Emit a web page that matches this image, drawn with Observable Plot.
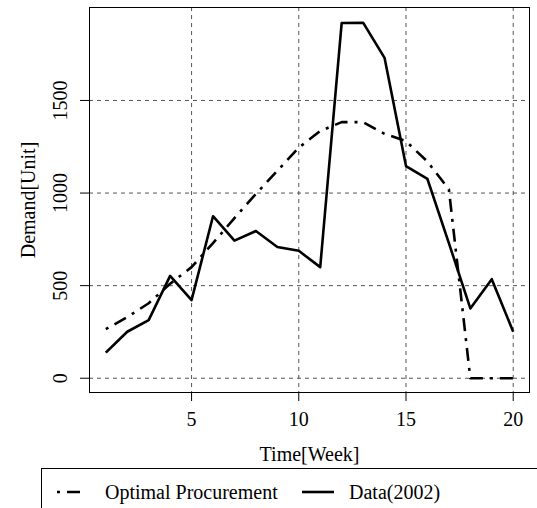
<!DOCTYPE html>
<html>
<head>
<meta charset="utf-8">
<script src="https://cdn.jsdelivr.net/npm/d3@7"></script>
<script src="https://cdn.jsdelivr.net/npm/@observablehq/plot@0.6"></script>
<style>
  html, body { margin: 0; padding: 0; background: #fff; overflow: hidden; }
  #wrap { position: relative; width: 537px; height: 508px; overflow: hidden; font-family: "Liberation Serif", "DejaVu Serif", serif; }
  #wrap svg.plot { position: absolute; left: 0; top: 0; }
  #legend { position: absolute; left: 41px; top: 468px; width: 520px; height: 80px; border: 1px solid #000; box-sizing: border-box; background: transparent; }
  .lg-text { position: absolute; top: 11px; font-size: 20px; line-height: 24px; color: #000; white-space: nowrap; }
  .lg-svg { position: absolute; top: 11px; }
</style>
</head>
<body>
<div id="wrap"></div>
<script>
// ---- data ----
const weeks = [1, 2, 3, 4, 5, 6, 7, 8, 9, 10, 11, 12, 13, 14, 15, 16, 17, 18, 19, 20];
const data2002 = [138, 251, 314, 553, 422, 875, 743, 795, 709, 688, 600, 1918, 1920, 1730, 1146, 1076, 730, 377, 535, 251];
const optimal = [265, 330, 405, 510, 600, 730, 865, 995, 1120, 1245, 1335, 1383, 1383, 1320, 1280, 1170, 1020, 0, 0, 0];
const xTicks = [5, 10, 15, 20];
const yTicks = [0, 500, 1000, 1500];
const seriesNames = ["Optimal Procurement", "Data(2002)"];
const xTitle = "Time[Week]";
const yTitle = "Demand[Unit]";

const rows = weeks.map((w, i) => ({week: w, data: data2002[i], opt: optimal[i]}));

const W = 537, H = 474;
const dashDot = "3,7,13,7";

const chart = Plot.plot({
  width: W,
  height: H,
  marginLeft: 89,
  marginRight: 8,
  marginTop: 7,
  marginBottom: H - 392,
  style: {fontFamily: "'Liberation Serif', 'DejaVu Serif', serif", fontSize: "20px", background: "transparent", color: "#000"},
  x: {domain: [0.24, 20.76]},
  y: {domain: [-77, 2002]},
  marks: [
    Plot.ruleX(xTicks, {stroke: "#555", strokeWidth: 1, strokeDasharray: "4,4"}),
    Plot.ruleY(yTicks, {stroke: "#555", strokeWidth: 1, strokeDasharray: "4,4"}),
    Plot.axisX({ticks: xTicks, tickSize: 9, tickPadding: 10, label: null, fontSize: 20, stroke: "#000"}),
    Plot.axisY({ticks: yTicks, tickSize: 9, tickFormat: () => "", label: null, stroke: "#000"}),
    Plot.text(yTicks, {y: d => d, text: d => String(d), frameAnchor: "left", dx: -29, rotate: -90, fontSize: 20, textAnchor: "middle", lineAnchor: "middle"}),
    Plot.text([xTitle], {frameAnchor: "bottom", dy: 62, fontSize: 20, textAnchor: "middle", lineAnchor: "middle"}),
    Plot.text([yTitle], {frameAnchor: "left", dx: -61, rotate: -90, fontSize: 20, textAnchor: "middle", lineAnchor: "middle"}),
    Plot.line(rows, {x: "week", y: "opt", stroke: "#000", strokeWidth: 2.6, strokeDasharray: dashDot, strokeLinecap: "butt", strokeLinejoin: "round"}),
    Plot.line(rows, {x: "week", y: "data", stroke: "#000", strokeWidth: 2.6, strokeLinecap: "butt", strokeLinejoin: "round"}),
    Plot.frame({stroke: "#000", strokeWidth: 1})
  ]
});
chart.classList.add("plot");

const wrap = document.getElementById("wrap");
wrap.appendChild(chart);

const legend = document.createElement("div");
legend.id = "legend";
legend.innerHTML = `
  <svg class="lg-svg" style="left:14px" width="30" height="24"><line x1="1" y1="12" x2="29" y2="12" stroke="#000" stroke-width="2.6" stroke-dasharray="${dashDot}"/></svg>
  <div class="lg-text" style="left:63px">${seriesNames[0]}</div>
  <svg class="lg-svg" style="left:259px" width="34" height="24"><line x1="1" y1="12" x2="33" y2="12" stroke="#000" stroke-width="2.6"/></svg>
  <div class="lg-text" style="left:307px">${seriesNames[1]}</div>`;
wrap.appendChild(legend);
</script>
</body>
</html>
